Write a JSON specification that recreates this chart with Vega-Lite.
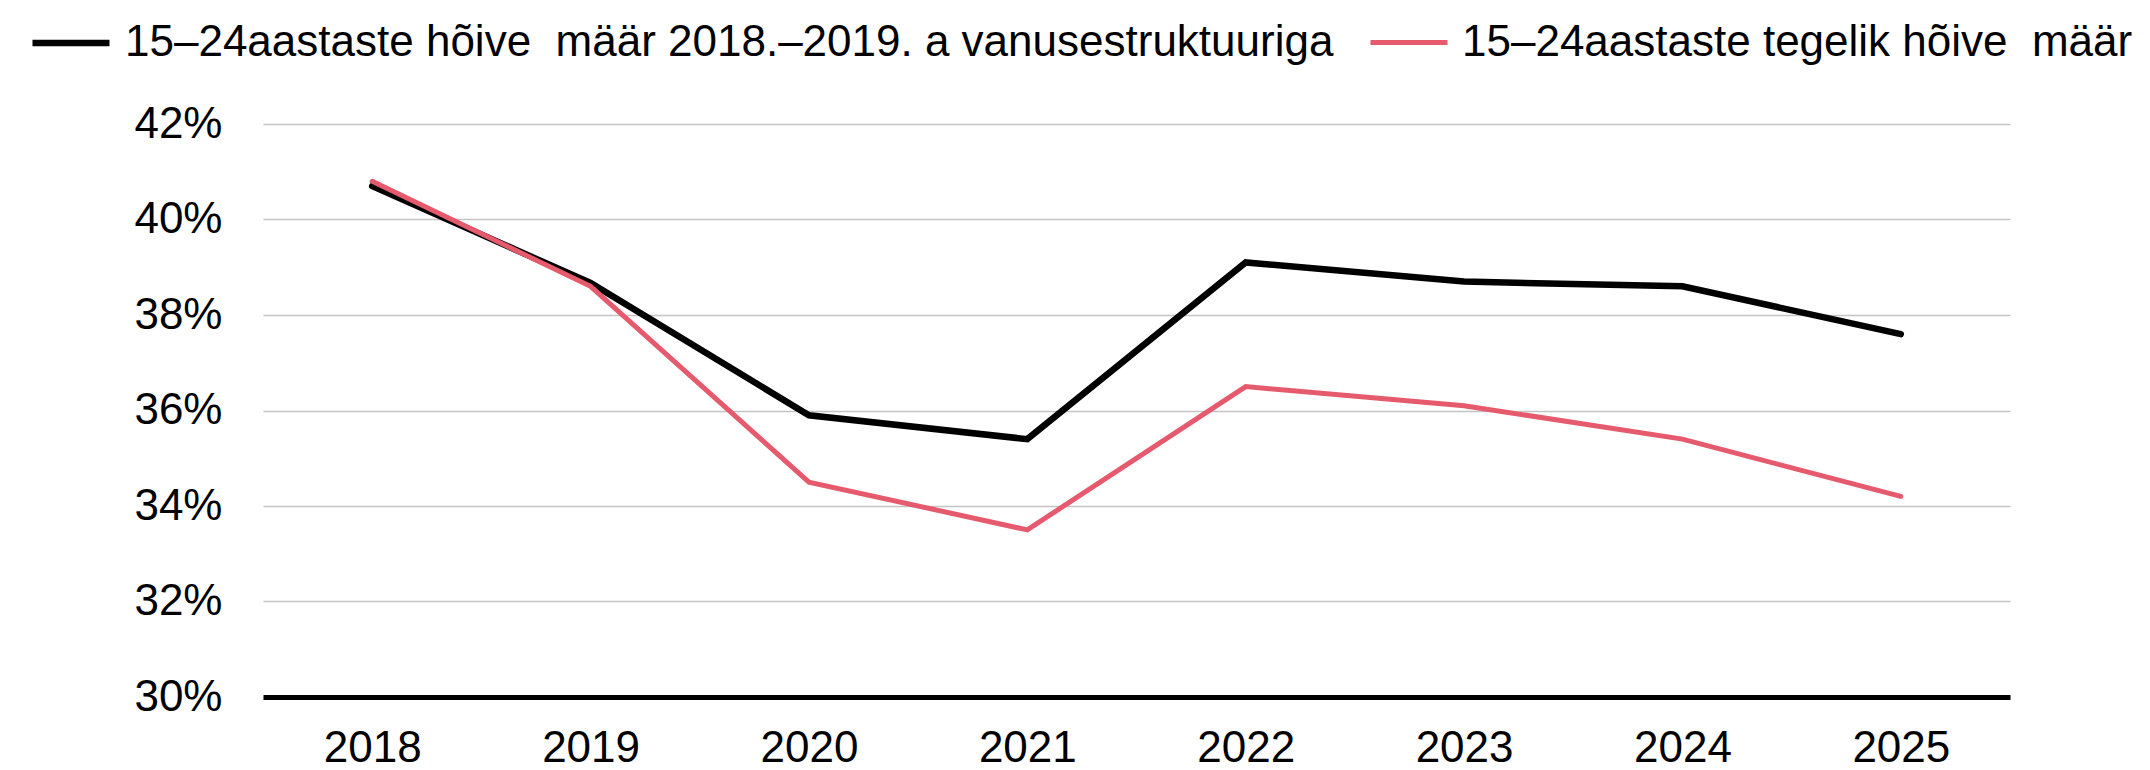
{
  "$schema": "https://vega.github.io/schema/vega-lite/v6.json",
  "width": 1747,
  "height": 573,
  "autosize": "none",
  "padding": {"left": 263, "top": 124, "right": 140, "bottom": 73},
  "background": "white",
  "config": {
    "view": {"stroke": null},
    "font": "Liberation Sans"
  },
  "data": {
    "values": [
      {"year": "2018", "series": "15–24aastaste hõive\u00a0 määr 2018.–2019. a vanusestruktuuriga", "value": 0.407},
      {"year": "2019", "series": "15–24aastaste hõive\u00a0 määr 2018.–2019. a vanusestruktuuriga", "value": 0.3867},
      {"year": "2020", "series": "15–24aastaste hõive\u00a0 määr 2018.–2019. a vanusestruktuuriga", "value": 0.359},
      {"year": "2021", "series": "15–24aastaste hõive\u00a0 määr 2018.–2019. a vanusestruktuuriga", "value": 0.354},
      {"year": "2022", "series": "15–24aastaste hõive\u00a0 määr 2018.–2019. a vanusestruktuuriga", "value": 0.391},
      {"year": "2023", "series": "15–24aastaste hõive\u00a0 määr 2018.–2019. a vanusestruktuuriga", "value": 0.387},
      {"year": "2024", "series": "15–24aastaste hõive\u00a0 määr 2018.–2019. a vanusestruktuuriga", "value": 0.386},
      {"year": "2025", "series": "15–24aastaste hõive\u00a0 määr 2018.–2019. a vanusestruktuuriga", "value": 0.376},
      {"year": "2018", "series": "15–24aastaste tegelik hõive\u00a0 määr", "value": 0.408},
      {"year": "2019", "series": "15–24aastaste tegelik hõive\u00a0 määr", "value": 0.386},
      {"year": "2020", "series": "15–24aastaste tegelik hõive\u00a0 määr", "value": 0.345},
      {"year": "2021", "series": "15–24aastaste tegelik hõive\u00a0 määr", "value": 0.335},
      {"year": "2022", "series": "15–24aastaste tegelik hõive\u00a0 määr", "value": 0.365},
      {"year": "2023", "series": "15–24aastaste tegelik hõive\u00a0 määr", "value": 0.361},
      {"year": "2024", "series": "15–24aastaste tegelik hõive\u00a0 määr", "value": 0.354},
      {"year": "2025", "series": "15–24aastaste tegelik hõive\u00a0 määr", "value": 0.342}
    ]
  },
  "mark": {"type": "line", "strokeCap": "round"},
  "encoding": {
    "x": {
      "field": "year",
      "type": "ordinal",
      "scale": {"type": "point", "padding": 0.5},
      "axis": {
        "title": null,
        "labelAngle": 0,
        "labelFontSize": 44,
        "labelColor": "#000000",
        "labelPadding": 29,
        "ticks": false,
        "domainColor": "#000000",
        "domainWidth": 5,
        "grid": false
      }
    },
    "y": {
      "field": "value",
      "type": "quantitative",
      "scale": {"domain": [0.3, 0.42], "nice": false, "zero": false},
      "axis": {
        "title": null,
        "values": [0.3, 0.32, 0.34, 0.36, 0.38, 0.4, 0.42],
        "format": ".0%",
        "labelFontSize": 44,
        "labelColor": "#000000",
        "labelPadding": 41,
        "ticks": false,
        "domain": false,
        "grid": true,
        "gridColor": "#C4C4C4",
        "gridWidth": 1.5
      }
    },
    "color": {
      "field": "series",
      "type": "nominal",
      "scale": {
        "domain": ["15–24aastaste hõive\u00a0 määr 2018.–2019. a vanusestruktuuriga", "15–24aastaste tegelik hõive\u00a0 määr"],
        "range": ["#000000", "#E65A6E"]
      },
      "legend": {
        "orient": "none",
        "direction": "horizontal",
        "legendX": -234,
        "legendY": -123,
        "title": null,
        "symbolType": "stroke",
        "symbolSize": 5929,
        "symbolStrokeWidth": 7,
        "labelFontSize": 44,
        "labelColor": "#000000",
        "labelOffset": 12,
        "labelLimit": 2000,
        "columnPadding": 26
      }
    },
    "strokeWidth": {
      "field": "series",
      "type": "nominal",
      "scale": {
        "domain": ["15–24aastaste hõive\u00a0 määr 2018.–2019. a vanusestruktuuriga", "15–24aastaste tegelik hõive\u00a0 määr"],
        "range": [6.5, 5]
      },
      "legend": null
    }
  }
}
